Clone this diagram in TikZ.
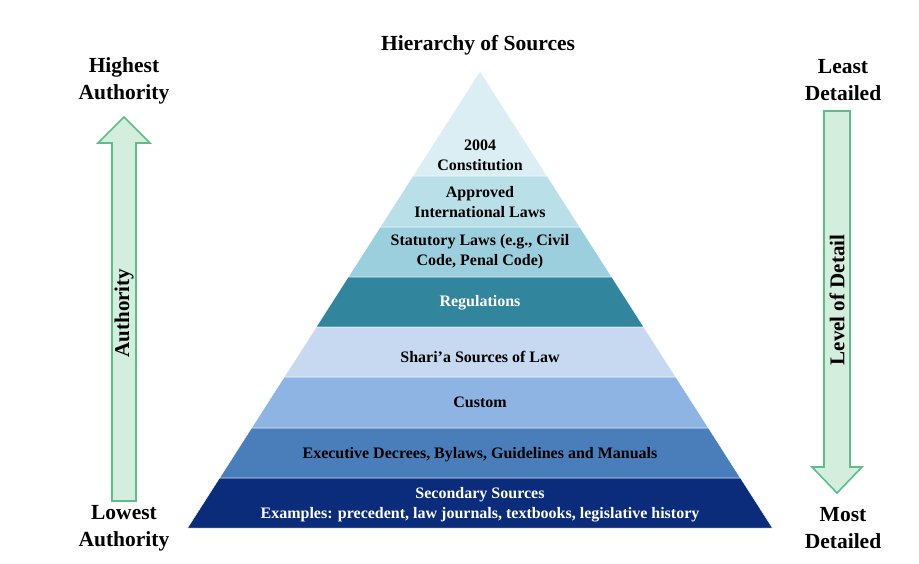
\documentclass[tikz,border=0pt]{standalone}
\usepackage{fontspec}
\setmainfont{Liberation Serif}
\definecolor{bandA}{HTML}{DAEEF3}
\definecolor{bandB}{HTML}{B9DFE9}
\definecolor{bandC}{HTML}{9CCFDD}
\definecolor{bandD}{HTML}{31859C}
\definecolor{bandE}{HTML}{C6D9F1}
\definecolor{bandF}{HTML}{8DB4E2}
\definecolor{bandG}{HTML}{4A7EBB}
\definecolor{bandH}{HTML}{0B2C7A}
\definecolor{arrowfill}{HTML}{D3EEDD}
\definecolor{arrowline}{HTML}{5CBE89}
\newcommand{\pyrband}[3]{%
  \filldraw[#3, draw=white, line width=0.5pt]
    ({480-(#1-71)*0.64},#1) -- ({480+(#1-71)*0.64},#1) --
    ({480+(#2-71)*0.64},#2) -- ({480-(#2-71)*0.64},#2) -- cycle;}
\begin{document}
\begin{tikzpicture}[x=1pt,y=-1pt,
  bandtext/.style={font=\bfseries\fontsize{16}{20}\selectfont, align=center, text=black, inner sep=0pt},
  sidelabel/.style={font=\bfseries\fontsize{21.5}{27}\selectfont, align=center, inner sep=0pt},
  arrowlabel/.style={font=\bfseries\fontsize{21}{25}\selectfont, rotate=90, inner sep=0pt},
  blockarrow/.style={fill=arrowfill, draw=arrowline, line width=1.6pt, line join=miter}]
\useasboundingbox (0,0) rectangle (919,563);
% pyramid bands
\pyrband{71}{176}{fill=bandA}
\pyrband{176}{227}{fill=bandB}
\pyrband{227}{277}{fill=bandC}
\pyrband{277}{327}{fill=bandD}
\pyrband{327}{377}{fill=bandE}
\pyrband{377}{428}{fill=bandF}
\pyrband{428}{478}{fill=bandG}
\pyrband{478}{528}{fill=bandH}
% band texts
\node[bandtext] (constitution) at (480,155) {2004\\Constitution};
\node[bandtext] (intl) at (480,202) {Approved\\International Laws};
\node[bandtext] (statutory) at (480,252) {Statutory Laws (e.g., Civil\\Code, Penal Code)};
\node[bandtext, text=white] (regs) at (480,303) {Regulations};
\node[bandtext] (sharia) at (480,357) {Shari’a Sources of Law};
\node[bandtext] (custom) at (480,402) {Custom};
\node[bandtext] (exec) at (480,455) {Executive Decrees, Bylaws, Guidelines and Manuals};
\node[bandtext, text=white] (secondary) at (480,505) {Secondary Sources\\Examples: precedent, law journals, textbooks, legislative history};
% titles and side labels
\node[sidelabel] (title) at (478,45) {Hierarchy of Sources};
\node[sidelabel] (highest) at (124,81) {Highest\\Authority};
\node[sidelabel] (lowest) at (124,528) {Lowest\\Authority};
\node[sidelabel] (least) at (843,80) {Least\\Detailed};
\node[sidelabel] (most) at (843,528) {Most\\Detailed};
% block arrows
\draw[blockarrow] (112,501) -- (112,143) -- (98,143) -- (124,117) -- (150,143) -- (136,143) -- (136,501) -- cycle;
\draw[blockarrow] (824,111) -- (850,111) -- (850,467) -- (862,467) -- (837,493) -- (812,467) -- (824,467) -- cycle;
\node[arrowlabel] (authority) at (124,313) {Authority};
\node[arrowlabel] (detail) at (837,300) {Level of Detail};
\end{tikzpicture}
\end{document}
